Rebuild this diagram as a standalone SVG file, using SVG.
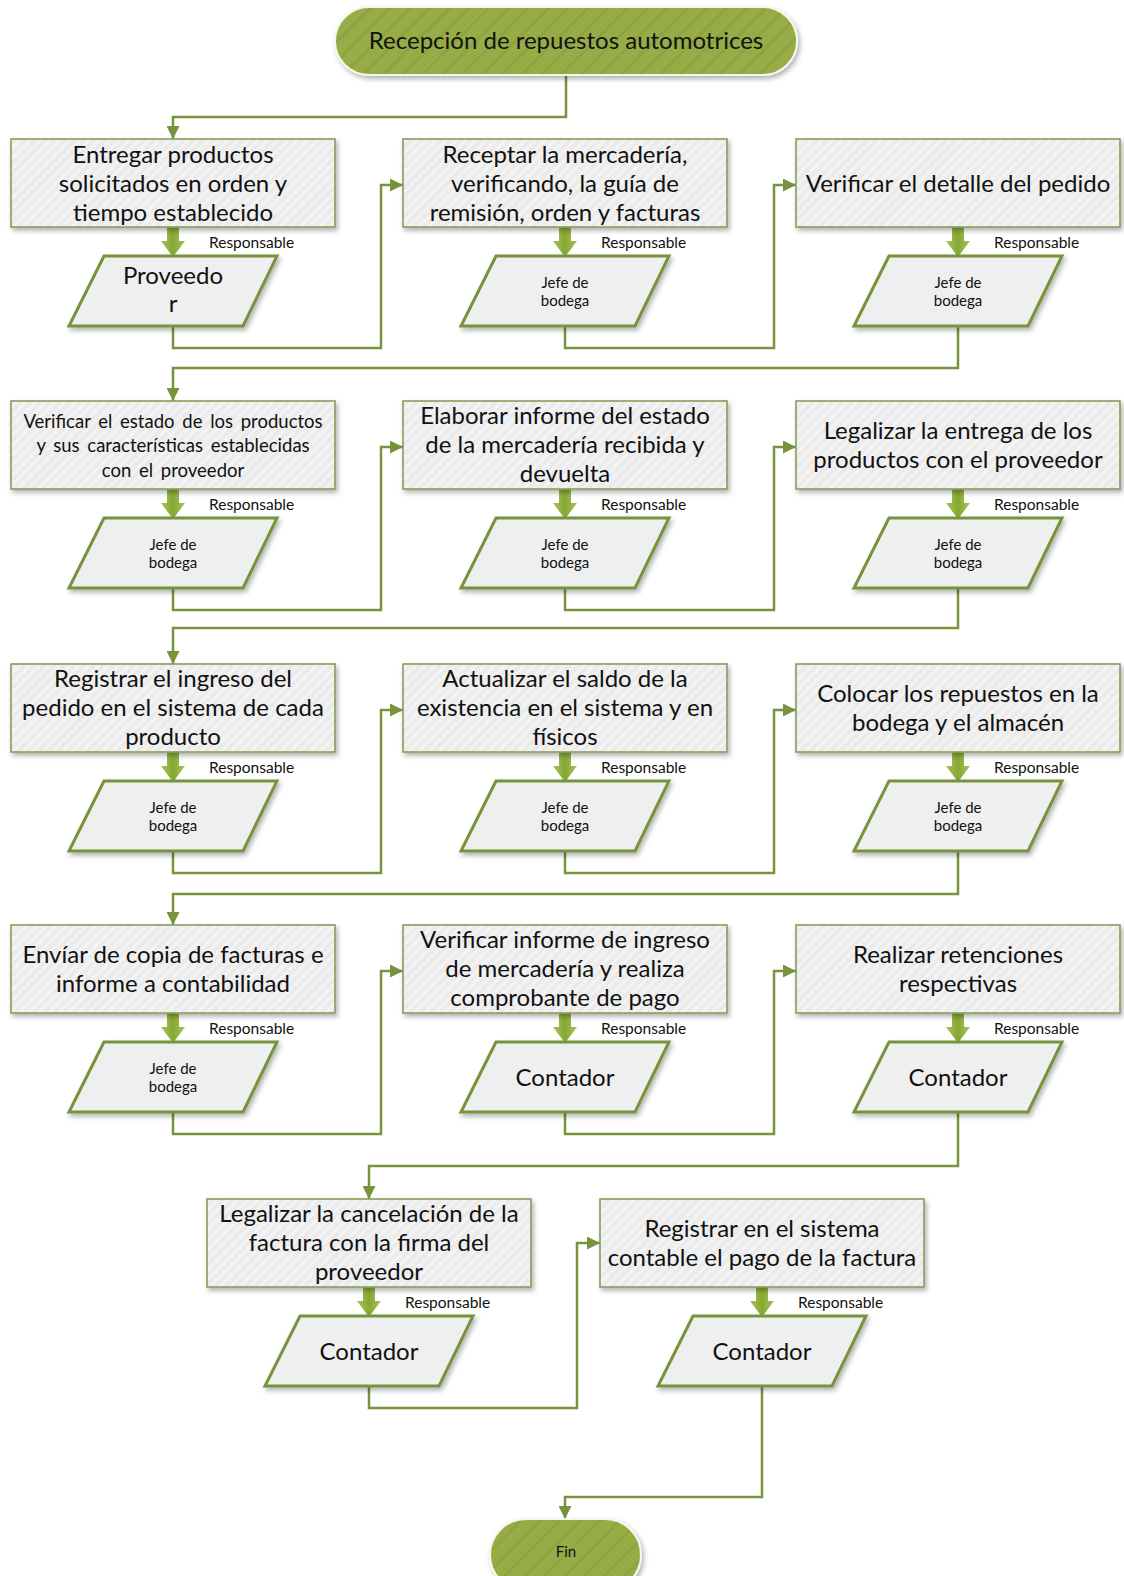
<svg xmlns="http://www.w3.org/2000/svg" width="1124" height="1576" viewBox="0 0 1124 1576">
  <style>
    .box { fill: url(#stripes); stroke: #8A9D5A; stroke-width: 1.6; filter: url(#shadow); }
    .io { fill: #EFEFEF; stroke: #77933C; stroke-width: 3; filter: url(#shadow); }
    .term { fill: url(#termStripes); stroke: #F4F8E8; stroke-width: 2; filter: url(#shadow); }
    .t { font-family: Lato, "Liberation Sans", sans-serif; font-size: 24px; fill: #111; text-anchor: middle; }
    .ts { font-family: Lato, "Liberation Sans", sans-serif; font-size: 18.5px; fill: #111; text-anchor: middle; word-spacing: 3px; }
    .tr { font-family: Lato, "Liberation Sans", sans-serif; font-size: 15px; fill: #111; text-anchor: middle; }
    .resp { font-family: Lato, "Liberation Sans", sans-serif; font-size: 15.5px; fill: #111; }
    .link { fill: none; stroke: #77933C; stroke-width: 2.5; marker-end: url(#arrow); }
    .fat { fill: url(#fatFill); }
  </style>
  <defs>
    <filter id="shadow" x="-10%" y="-10%" width="125%" height="135%">
      <feDropShadow dx="2" dy="3" stdDeviation="2.5" flood-color="#000" flood-opacity="0.3"/>
    </filter>
    <pattern id="stripes" width="7" height="7" patternUnits="userSpaceOnUse" patternTransform="rotate(45)">
      <rect width="7" height="7" fill="#EBEBEB"/>
      <rect width="3" height="7" fill="#F3F3F3"/>
    </pattern>
    <pattern id="termStripes" width="14" height="14" patternUnits="userSpaceOnUse" patternTransform="rotate(45)">
      <rect width="14" height="14" fill="#97AC46"/>
      <rect width="3" height="14" fill="#8FA441"/>
    </pattern>
    <linearGradient id="fatFill" x1="0" y1="0" x2="1" y2="0">
      <stop offset="0" stop-color="#A8C35E"/>
      <stop offset="0.5" stop-color="#86A832"/>
      <stop offset="1" stop-color="#A8C35E"/>
    </linearGradient>
    <marker id="arrow" viewBox="0 0 10 10" refX="10" refY="5" markerWidth="13" markerHeight="13" markerUnits="userSpaceOnUse" orient="auto">
      <path d="M0,0 L10,5 L0,10 z" fill="#77933C"/>
    </marker>
    <!-- fat downward arrow between an activity and its responsible -->
    <path id="fatArrow" d="M-6,0 H6 V14 H12 L0,30 L-12,14 H-6 Z"/>
  </defs>
  <rect width="1124" height="1576" fill="#FFFFFF"/>

  <!-- connectors -->
  <g id="connectors">
    <path class="link" d="M566,75 V117 H173 V139"/>
    <!-- row 1 -->
    <path class="link" d="M173,326 V348 H381 V185 H403"/>
    <path class="link" d="M565,326 V348 H774 V185 H796"/>
    <path class="link" d="M958,326 V368 H173 V401"/>
    <!-- row 2 -->
    <path class="link" d="M173,588 V610 H381 V447 H403"/>
    <path class="link" d="M565,588 V610 H774 V447 H796"/>
    <path class="link" d="M958,588 V628 H173 V664"/>
    <!-- row 3 -->
    <path class="link" d="M173,851 V873 H381 V710 H403"/>
    <path class="link" d="M565,851 V873 H774 V710 H796"/>
    <path class="link" d="M958,851 V894 H173 V925"/>
    <!-- row 4 -->
    <path class="link" d="M173,1112 V1134 H381 V971 H403"/>
    <path class="link" d="M565,1112 V1134 H774 V971 H796"/>
    <path class="link" d="M958,1112 V1166 H369 V1199"/>
    <!-- row 5 -->
    <path class="link" d="M369,1386 V1408 H577 V1243 H600"/>
    <path class="link" d="M762,1386 V1497 H565 V1519"/>

    <!-- responsible arrows and labels -->
    <use href="#fatArrow" class="fat" x="173" y="227"/>
    <use href="#fatArrow" class="fat" x="565" y="227"/>
    <use href="#fatArrow" class="fat" x="958" y="227"/>
    <use href="#fatArrow" class="fat" x="173" y="489"/>
    <use href="#fatArrow" class="fat" x="565" y="489"/>
    <use href="#fatArrow" class="fat" x="958" y="489"/>
    <use href="#fatArrow" class="fat" x="173" y="752"/>
    <use href="#fatArrow" class="fat" x="565" y="752"/>
    <use href="#fatArrow" class="fat" x="958" y="752"/>
    <use href="#fatArrow" class="fat" x="173" y="1013"/>
    <use href="#fatArrow" class="fat" x="565" y="1013"/>
    <use href="#fatArrow" class="fat" x="958" y="1013"/>
    <use href="#fatArrow" class="fat" x="369" y="1287"/>
    <use href="#fatArrow" class="fat" x="762" y="1287"/>
    <text class="resp" x="209" y="248">Responsable</text>
    <text class="resp" x="601" y="248">Responsable</text>
    <text class="resp" x="994" y="248">Responsable</text>
    <text class="resp" x="209" y="510">Responsable</text>
    <text class="resp" x="601" y="510">Responsable</text>
    <text class="resp" x="994" y="510">Responsable</text>
    <text class="resp" x="209" y="773">Responsable</text>
    <text class="resp" x="601" y="773">Responsable</text>
    <text class="resp" x="994" y="773">Responsable</text>
    <text class="resp" x="209" y="1034">Responsable</text>
    <text class="resp" x="601" y="1034">Responsable</text>
    <text class="resp" x="994" y="1034">Responsable</text>
    <text class="resp" x="405" y="1308">Responsable</text>
    <text class="resp" x="798" y="1308">Responsable</text>
  </g>

  <!-- start -->
  <g id="inicio">
    <rect class="term" x="335" y="7" width="462" height="68" rx="34"/>
    <text class="t" x="566" y="49">Recepción de repuestos automotrices</text>
  </g>

  <!-- row 1 -->
  <g id="entregar">
    <rect class="box" x="11" y="139" width="324" height="88"/>
    <text class="t" x="173" y="163">Entregar productos</text>
    <text class="t" x="173" y="192">solicitados en orden y</text>
    <text class="t" x="173" y="221">tiempo establecido</text>
  </g>
  <g id="resp-entregar">
    <polygon class="io" points="104,256 277,256 243,326 69,326"/>
    <text class="t" x="173" y="284">Proveedo</text>
    <text class="t" x="173" y="312">r</text>
  </g>
  <g id="receptar">
    <rect class="box" x="403" y="139" width="324" height="88"/>
    <text class="t" x="565" y="163">Receptar la mercadería,</text>
    <text class="t" x="565" y="192">verificando, la guía de</text>
    <text class="t" x="565" y="221">remisión, orden y facturas</text>
  </g>
  <g id="resp-receptar">
    <polygon class="io" points="496,256 669,256 635,326 461,326"/>
    <text class="tr" x="565" y="288">Jefe de</text>
    <text class="tr" x="565" y="306">bodega</text>
  </g>
  <g id="verificar-detalle">
    <rect class="box" x="796" y="139" width="324" height="88"/>
    <text class="t" x="958" y="192">Verificar el detalle del pedido</text>
  </g>
  <g id="resp-verificar-detalle">
    <polygon class="io" points="889,256 1062,256 1028,326 854,326"/>
    <text class="tr" x="958" y="288">Jefe de</text>
    <text class="tr" x="958" y="306">bodega</text>
  </g>

  <!-- row 2 -->
  <g id="verificar-estado">
    <rect class="box" x="11" y="401" width="324" height="88"/>
    <text class="ts" x="173" y="428">Verificar el estado de los productos</text>
    <text class="ts" x="173" y="452">y sus características establecidas</text>
    <text class="ts" x="173" y="477">con el proveedor</text>
  </g>
  <g id="resp-verificar-estado">
    <polygon class="io" points="104,518 277,518 243,588 69,588"/>
    <text class="tr" x="173" y="550">Jefe de</text>
    <text class="tr" x="173" y="568">bodega</text>
  </g>
  <g id="elaborar-informe">
    <rect class="box" x="403" y="401" width="324" height="88"/>
    <text class="t" x="565" y="424">Elaborar informe  del estado</text>
    <text class="t" x="565" y="453">de la mercadería recibida y</text>
    <text class="t" x="565" y="482">devuelta</text>
  </g>
  <g id="resp-elaborar-informe">
    <polygon class="io" points="496,518 669,518 635,588 461,588"/>
    <text class="tr" x="565" y="550">Jefe de</text>
    <text class="tr" x="565" y="568">bodega</text>
  </g>
  <g id="legalizar-entrega">
    <rect class="box" x="796" y="401" width="324" height="88"/>
    <text class="t" x="958" y="439">Legalizar la entrega de los</text>
    <text class="t" x="958" y="468">productos con el proveedor</text>
  </g>
  <g id="resp-legalizar-entrega">
    <polygon class="io" points="889,518 1062,518 1028,588 854,588"/>
    <text class="tr" x="958" y="550">Jefe de</text>
    <text class="tr" x="958" y="568">bodega</text>
  </g>

  <!-- row 3 -->
  <g id="registrar-ingreso">
    <rect class="box" x="11" y="664" width="324" height="88"/>
    <text class="t" x="173" y="687">Registrar el ingreso del</text>
    <text class="t" x="173" y="716">pedido en el sistema de cada</text>
    <text class="t" x="173" y="745">producto</text>
  </g>
  <g id="resp-registrar-ingreso">
    <polygon class="io" points="104,781 277,781 243,851 69,851"/>
    <text class="tr" x="173" y="813">Jefe de</text>
    <text class="tr" x="173" y="831">bodega</text>
  </g>
  <g id="actualizar-saldo">
    <rect class="box" x="403" y="664" width="324" height="88"/>
    <text class="t" x="565" y="687">Actualizar el saldo de la</text>
    <text class="t" x="565" y="716">existencia en el sistema y en</text>
    <text class="t" x="565" y="745">físicos</text>
  </g>
  <g id="resp-actualizar-saldo">
    <polygon class="io" points="496,781 669,781 635,851 461,851"/>
    <text class="tr" x="565" y="813">Jefe de</text>
    <text class="tr" x="565" y="831">bodega</text>
  </g>
  <g id="colocar-repuestos">
    <rect class="box" x="796" y="664" width="324" height="88"/>
    <text class="t" x="958" y="702">Colocar los repuestos en la</text>
    <text class="t" x="958" y="731">bodega y el almacén</text>
  </g>
  <g id="resp-colocar-repuestos">
    <polygon class="io" points="889,781 1062,781 1028,851 854,851"/>
    <text class="tr" x="958" y="813">Jefe de</text>
    <text class="tr" x="958" y="831">bodega</text>
  </g>

  <!-- row 4 -->
  <g id="enviar-copia">
    <rect class="box" x="11" y="925" width="324" height="88"/>
    <text class="t" x="173" y="963">Envíar de copia de facturas e</text>
    <text class="t" x="173" y="992">informe a  contabilidad</text>
  </g>
  <g id="resp-enviar-copia">
    <polygon class="io" points="104,1042 277,1042 243,1112 69,1112"/>
    <text class="tr" x="173" y="1074">Jefe de</text>
    <text class="tr" x="173" y="1092">bodega</text>
  </g>
  <g id="verificar-informe">
    <rect class="box" x="403" y="925" width="324" height="88"/>
    <text class="t" x="565" y="948">Verificar  informe  de  ingreso</text>
    <text class="t" x="565" y="977">de  mercadería  y realiza</text>
    <text class="t" x="565" y="1006">comprobante de pago</text>
  </g>
  <g id="resp-verificar-informe">
    <polygon class="io" points="496,1042 669,1042 635,1112 461,1112"/>
    <text class="t" x="565" y="1086">Contador</text>
  </g>
  <g id="realizar-retenciones">
    <rect class="box" x="796" y="925" width="324" height="88"/>
    <text class="t" x="958" y="963">Realizar retenciones</text>
    <text class="t" x="958" y="992">respectivas</text>
  </g>
  <g id="resp-realizar-retenciones">
    <polygon class="io" points="889,1042 1062,1042 1028,1112 854,1112"/>
    <text class="t" x="958" y="1086">Contador</text>
  </g>

  <!-- row 5 -->
  <g id="legalizar-cancelacion">
    <rect class="box" x="207" y="1199" width="324" height="88"/>
    <text class="t" x="369" y="1222">Legalizar la cancelación de la</text>
    <text class="t" x="369" y="1251">factura con la firma del</text>
    <text class="t" x="369" y="1280">proveedor</text>
  </g>
  <g id="resp-legalizar-cancelacion">
    <polygon class="io" points="300,1316 473,1316 439,1386 265,1386"/>
    <text class="t" x="369" y="1360">Contador</text>
  </g>
  <g id="registrar-pago">
    <rect class="box" x="600" y="1199" width="324" height="88"/>
    <text class="t" x="762" y="1237">Registrar en el sistema</text>
    <text class="t" x="762" y="1266">contable el  pago de la factura</text>
  </g>
  <g id="resp-registrar-pago">
    <polygon class="io" points="693,1316 866,1316 832,1386 658,1386"/>
    <text class="t" x="762" y="1360">Contador</text>
  </g>

  <!-- end -->
  <g id="fin">
    <rect class="term" x="490" y="1519" width="151" height="72" rx="36"/>
    <text class="tr" x="566" y="1557">Fin</text>
  </g>
</svg>
